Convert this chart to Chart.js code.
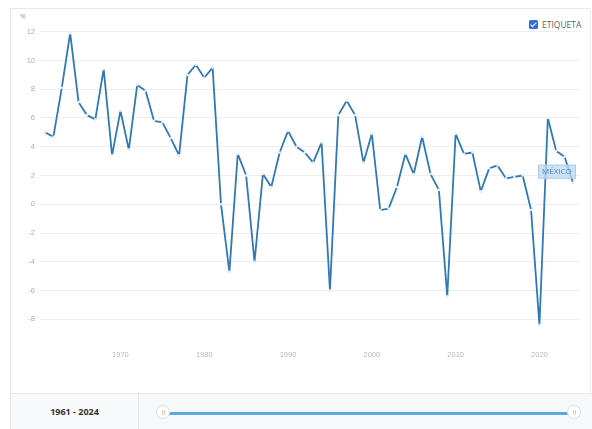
<!DOCTYPE html>
<html>
<head>
<meta charset="utf-8">
<script src="https://cdn.jsdelivr.net/npm/chart.js@4/dist/chart.umd.min.js"></script>
<style>
  html, body { margin: 0; padding: 0; background: #ffffff; width: 592px; height: 429px; overflow: hidden; font-family: "Open Sans", "Noto Sans", sans-serif; }
  #card { position: absolute; left: 10px; top: 8px; width: 579px; height: 421px; border-top: 1px solid #e6e8eb; border-left: 1px solid #e6e8eb; border-right: 1px solid #eef0f2; background: #fff; }
  #wrap { position: absolute; left: 0; top: 0; width: 592px; height: 393px; }
  #bottom { position: absolute; left: 11px; top: 393px; width: 581px; height: 36px; background: #f6f8fa; border-top: 1px solid #e4e7eb; }
  #range { position: absolute; left: 0; top: 0; width: 127px; height: 36px; border-right: 1px solid #e2e5e9; background: #f7f9fb; color: #333; font-weight: 700; font-size: 9px; line-height: 36px; text-align: center; }
  #track { position: absolute; left: 152px; top: 18px; width: 411px; height: 3px; background: #5aa8dd; }
  .handle { position: absolute; top: 11px; width: 14px; height: 14px; border-radius: 50%; background: #fff; border: 1px solid #d9dde2; box-sizing: border-box; }
  .handle span { position: absolute; left: 5px; top: 4px; width: 3px; height: 5px; border-left: 1px solid #f0c8b8; border-right: 1px solid #f0c8b8; box-sizing: border-box; }
  #legend { position: absolute; left: 529px; top: 19px; font-size: 8.5px; color: #5a5f66; display: flex; align-items: center; }
  #legend .box { width: 9px; height: 9px; background: #2f6fd8; border-radius: 1.5px; margin-right: 4px; position: relative; }
  #legend .box:after { content: ""; position: absolute; left: 3px; top: 1px; width: 2px; height: 5px; border: solid #fff; border-width: 0 1.5px 1.5px 0; transform: rotate(45deg); }
  #unit { position: absolute; left: 20px; top: 12px; font-size: 7px; color: #9aa0a6; }
</style>
</head>
<body>
<div id="card"></div>
<div id="unit">%</div>
<div id="legend"><div class="box"></div>ETIQUETA</div>
<div id="wrap"><canvas id="c" width="592" height="393"></canvas></div>
<div id="bottom">
  <div id="range">1961 - 2024</div>
  <div id="track"></div>
  <div class="handle" style="left:145px"><span></span></div>
  <div class="handle" style="left:556px"><span></span></div>
</div>
<script>
const years = [1961,1962,1963,1964,1965,1966,1967,1968,1969,1970,
  1971,1972,1973,1974,1975,1976,1977,1978,1979,1980,
  1981,1982,1983,1984,1985,1986,1987,1988,1989,1990,
  1991,1992,1993,1994,1995,1996,1997,1998,1999,2000,
  2001,2002,2003,2004,2005,2006,2007,2008,2009,2010,
  2011,2012,2013,2014,2015,2016,2017,2018,2019,2020,
  2021,2022,2023,2024];
const growth = [5.0,4.7,8.1,11.9,7.1,6.2,5.9,9.4,3.4,6.5,
  3.8,8.3,7.9,5.8,5.7,4.6,3.4,9.0,9.7,8.8,
  9.5,0.0,-4.7,3.5,2.0,-4.0,2.1,1.2,3.6,5.1,
  4.0,3.6,2.9,4.3,-6.0,6.2,7.2,6.2,2.9,4.9,
  -0.4,-0.3,1.2,3.5,2.1,4.7,2.1,1.0,-6.4,4.9,
  3.5,3.6,0.9,2.5,2.7,1.8,1.9,2.0,-0.4,-8.4,
  6.0,3.7,3.3,1.5];
const xTicks = [1970,1980,1990,2000,2010,2020];
const yTicks = [-8,-6,-4,-2,0,2,4,6,8,10,12];
const seriesName = "MÉXICO";

const lineColor = '#3079b5';

const labelPlugin = {
  id: 'lastLabel',
  afterDatasetsDraw(chart) {
    const meta = chart.getDatasetMeta(0);
    const pt = meta.data[meta.data.length - 1];
    const ctx = chart.ctx;
    ctx.save();
    ctx.font = '8px "Open Sans", sans-serif';
    const w = ctx.measureText(seriesName).width + 8;
    const h = 14;
    const cx = pt.x - 16, cy = pt.y - 11;
    ctx.fillStyle = 'rgba(190,218,240,0.75)';
    ctx.strokeStyle = '#a9cbe6';
    ctx.lineWidth = 1;
    ctx.fillRect(cx - w/2, cy - h/2, w, h);
    ctx.strokeRect(cx - w/2 + 0.5, cy - h/2 + 0.5, w - 1, h - 1);
    ctx.fillStyle = '#4a87bf';
    ctx.textAlign = 'center';
    ctx.textBaseline = 'middle';
    ctx.fillText(seriesName, cx, cy + 0.5);
    ctx.restore();
  }
};

new Chart(document.getElementById('c'), {
  type: 'line',
  data: {
    datasets: [{
      label: seriesName,
      data: years.map((y, i) => ({ x: y, y: growth[i] })),
      borderColor: lineColor,
      borderWidth: 1.8,
      borderJoinStyle: 'round',
      borderCapStyle: 'round',
      tension: 0,
      pointRadius: 1.3,
      pointBackgroundColor: '#e8eef4',
      pointBorderWidth: 0,
      fill: false,
      clip: false
    }]
  },
  options: {
    responsive: false,
    animation: false,
    events: [],
    layout: { padding: { left: 0, right: 12, top: 31.7, bottom: 29.3 } },
    plugins: { legend: { display: false }, tooltip: { enabled: false } },
    scales: {
      x: {
        type: 'linear',
        min: 1960.4,
        max: 2024.84,
        afterBuildTicks(scale) { scale.ticks = xTicks.map(v => ({ value: v })); },
        afterFit(scale) { scale.height = 30; },
        grid: { display: false },
        border: { display: false },
        ticks: { padding: 9, color: '#b4b8bd', font: { size: 7.5 }, callback: v => String(v), maxRotation: 0, autoSkip: false }
      },
      y: {
        min: -9,
        max: 12,
        afterBuildTicks(scale) { scale.ticks = yTicks.map(v => ({ value: v })); },
        afterFit(scale) { scale.width = 40; },
        grid: { color: '#eceef0', lineWidth: 1, drawTicks: false },
        border: { display: false },
        ticks: { padding: 5, color: '#a8adb3', font: { size: 7.5 } }
      }
    }
  },
  plugins: [labelPlugin]
});
</script>
</body>
</html>
